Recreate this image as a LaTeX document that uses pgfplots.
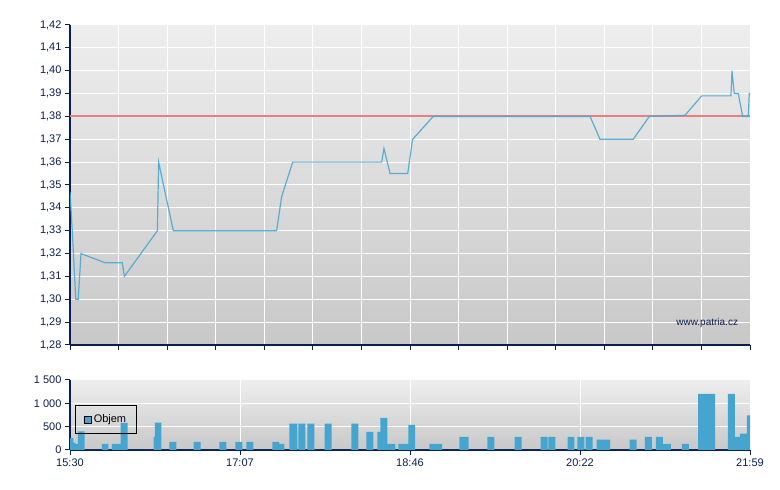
\documentclass[border=0pt]{standalone}
\usepackage{pgfplots}
\pgfplotsset{compat=1.18}
\usepackage{fontspec}
\setmainfont{Liberation Sans}
\definecolor{navy}{HTML}{0A1E50}
\definecolor{lineblue}{HTML}{4BA8D2}
\definecolor{barblue}{HTML}{45A5CF}
\definecolor{refred}{HTML}{E38181}
\definecolor{bgtop}{HTML}{EEEEEE}
\definecolor{bgbot}{HTML}{C8C8C8}
\pgfplotsset{
  patria/.style={
    scale only axis,
    axis lines=left,
    axis line style={-, navy, line width=1.1pt},
    tick align=outside,
    major tick length=5pt,
    tick style={navy, line width=1pt},
    grid=major,
    major grid style={white, line width=1pt},
    axis background/.style={top color=bgtop, bottom color=bgbot},
    ticklabel style={font=\fontsize{11}{13}\selectfont, text=navy},
    /pgf/number format/assume math mode=true,
    xmin=0, xmax=389,
  }
}
\begin{document}
\begin{tikzpicture}[x=1pt,y=1pt]
\path[use as bounding box] (0,0) rectangle (780,490);
\begin{axis}[patria,
  at={(70pt,145pt)}, anchor=south west,
  width=680pt, height=320pt,
  ymin=1.28, ymax=1.42,
  ytick={1.28,1.29,1.30,1.31,1.32,1.33,1.34,1.35,1.36,1.37,1.38,1.39,1.40,1.41,1.42},
  yticklabel style={/pgf/number format/.cd, fixed, fixed zerofill, precision=2, use comma},
  xtick={0,27.786,55.571,83.357,111.143,138.929,166.714,194.5,222.286,250.071,277.857,305.643,333.429,361.214,389},
  xticklabels={},
]
\addplot[refred, line width=2pt, forget plot] coordinates {(0,1.38) (389,1.38)};
\addplot[lineblue, line width=1.2pt, opacity=0.9] coordinates {
(0,1.347) (1.3,1.33) (3.3,1.30) (4.7,1.30) (6.3,1.32) (20.0,1.316) (29.9,1.316)
(31.1,1.31) (50.0,1.33) (50.7,1.36) (59.1,1.33) (118.2,1.33) (121.1,1.345)
(127.4,1.36) (178.3,1.36) (179.6,1.366) (183.1,1.355) (193.2,1.355) (196.0,1.37)
(207.8,1.38) (297.5,1.38) (303.2,1.37) (322.2,1.37) (331.4,1.38) (351.8,1.3805)
(361.4,1.389) (378.1,1.389) (378.7,1.40) (380.0,1.39) (382.3,1.39) (384.8,1.38)
(388.0,1.38) (388.6,1.39) (389,1.39)
};
\node[font=\fontsize{10}{12}\selectfont, text=navy] at (axis cs:364.5,1.2896) {www.patria.cz};
\end{axis}
\begin{axis}[patria,
  at={(70pt,40pt)}, anchor=south west,
  width=680pt, height=70pt,
  ymin=0, ymax=1500,
  ytick={0,500,1000,1500},
  yticklabel style={/pgf/number format/.cd, 1000 sep={\ }},
  xtick={0,97.25,194.5,291.75,389},
  xticklabels={15:30,17:07,18:46,20:22,21:59},
  legend style={at={(0.007,0.643)}, anchor=north west, draw=black, line width=1pt,
    fill=none, font=\fontsize{11}{13}\selectfont, inner xsep=8.5pt, inner ysep=7.5pt},
  legend image code/.code={\draw[fill=barblue, draw=black, line width=1pt] (0pt,-3.5pt) rectangle (7pt,3.5pt);},
]
\addplot[const plot mark left, fill=barblue, draw=none] coordinates {
(0,260) (2.0,160) (3.1,130) (4.5,400) (8.3,0) (18.2,130) (22.0,0) (23.9,130)
(28.9,580) (32.9,0) (47.8,280) (48.5,585) (52.3,0) (56.9,175) (60.8,0)
(70.7,175) (74.7,0) (85.5,175) (89.5,0) (94.6,175) (98.6,0) (100.9,175) (104.9,0)
(115.8,175) (119.8,130) (122.7,0) (125.5,565) (130.1,0) (130.7,565) (134.7,0)
(135.8,565) (139.8,0) (145.6,565) (149.6,0) (161.0,565) (165.0,0) (169.6,390)
(173.6,0) (175.9,390) (177.6,690) (181.6,130) (186.2,0) (187.9,130) (193.6,540)
(197.5,0) (205.6,130) (212.9,0) (222.8,280) (228.0,0) (238.8,280) (242.8,0)
(254.3,280) (258.3,0) (269.2,280) (273.2,0) (273.7,280) (277.7,0) (284.6,280)
(288.6,0) (290.3,280) (294.3,0) (294.9,280) (298.9,0) (301.2,220) (309.0,0)
(320.2,220) (324.2,0) (328.8,280) (332.8,0) (335.1,280) (339.1,130) (343.7,0)
(350.0,130) (354.0,0) (359.3,1200) (369.0,0) (376.4,1200) (380.4,280) (383.2,350)
(387.2,740) (389,740)
} \closedcycle;
\addlegendentry{Objem}
\end{axis}
\end{tikzpicture}
\end{document}
